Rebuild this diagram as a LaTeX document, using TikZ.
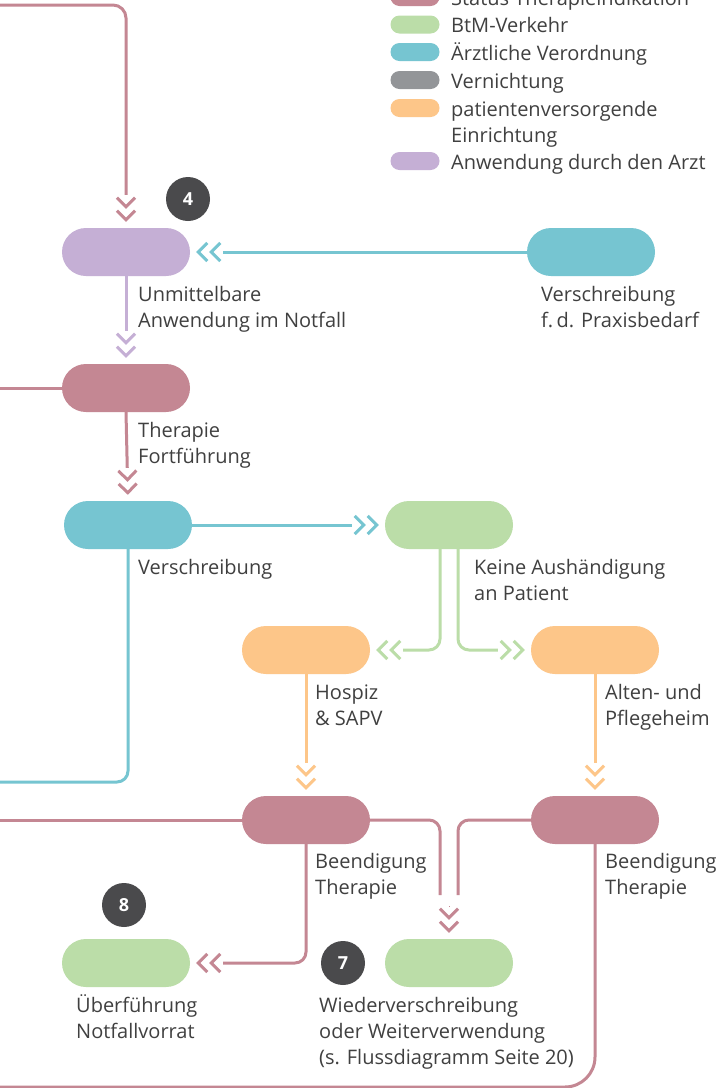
\documentclass[tikz,border=0pt]{standalone}
\usepackage{fontspec}
\setmainfont{Open Sans}
\usetikzlibrary{arrows.meta}
\definecolor{rose}{HTML}{C48793}
\definecolor{grn}{HTML}{BBDDA8}
\definecolor{tl}{HTML}{76C5D1}
\definecolor{gry}{HTML}{939598}
\definecolor{org}{HTML}{FDC689}
\definecolor{purp}{HTML}{C5AFD5}
\definecolor{badge}{HTML}{4A4A4C}
\definecolor{txt}{HTML}{404040}
\pgfdeclarearrow{
  name = Chev,
  setup code = {
    \pgfarrowssettipend{0pt}
    \pgfarrowssetbackend{-25pt}
    \pgfarrowssetvisualbackend{-25pt}
    \pgfarrowssetlineend{-27pt}
    \pgfarrowshullpoint{0pt}{0pt}
    \pgfarrowshullpoint{-25pt}{10pt}
    \pgfarrowshullpoint{-25pt}{-10pt}
  },
  drawing code = {
    \pgfsetlinewidth{3pt}
    \pgfsetbuttcap
    \pgfsetmiterjoin
    \pgfsetdash{}{0pt}
    \pgfpathmoveto{\pgfqpoint{-11.1pt}{9pt}}
    \pgfpathlineto{\pgfqpoint{-2.1pt}{0pt}}
    \pgfpathlineto{\pgfqpoint{-11.1pt}{-9pt}}
    \pgfpathmoveto{\pgfqpoint{-24.1pt}{9pt}}
    \pgfpathlineto{\pgfqpoint{-15.1pt}{0pt}}
    \pgfpathlineto{\pgfqpoint{-24.1pt}{-9pt}}
    \pgfusepathqstroke
  }
}
\begin{document}
\begin{tikzpicture}[x=1pt,y=-1pt,
  pill/.style={rectangle, rounded corners=24pt, minimum width=128pt, minimum height=48pt, inner sep=0pt, draw=none},
  leg/.style={rectangle, rounded corners=9pt, minimum width=49pt, minimum height=18pt, inner sep=0pt, draw=none},
  conn/.style={line width=3pt},
  ar/.style={-{Chev}, shorten >=6pt},
  lab/.style={anchor=base west, align=left, inner sep=0pt, text=txt, font=\fontsize{20}{26}\selectfont},
  num/.style={circle, fill=badge, minimum size=44pt, inner sep=0pt, text=white, font=\fontsize{18}{18}\selectfont\bfseries}]
\fill[white] (0,0) rectangle (721,1088);
\useasboundingbox (0,0) rectangle (721,1088);

% legend
\node[leg, fill=rose] (l1) at (415,-3) {};
\node[leg, fill=grn]  (l2) at (415,24.5) {};
\node[leg, fill=tl]   (l3) at (415,52) {};
\node[leg, fill=gry]  (l4) at (415,80) {};
\node[leg, fill=org]  (l5) at (415,108) {};
\node[leg, fill=purp] (l6) at (415,161) {};
\node[lab] (t1) at (451,5) {Status Therapieindikation};
\node[lab] (t2) at (451,32.5) {BtM-Verkehr};
\node[lab] (t3) at (451,60) {Ärztliche Verordnung};
\node[lab] (t4) at (451,88) {Vernichtung};
\node[lab] (t5) at (451,142) {patientenversorgende\\Einrichtung};
\node[lab] (t6) at (451,169) {Anwendung durch den Arzt};

% nodes
\node[pill, fill=purp] (anw) at (126,252) {};
\node[pill, fill=tl] (prax) at (591,252) {};
\node[pill, fill=rose] (ther) at (126,388) {};
\node[pill, fill=tl] (vers) at (128,525) {};
\node[pill, fill=grn] (keine) at (449,525) {};
\node[pill, fill=org] (hosp) at (306,650) {};
\node[pill, fill=org] (alten) at (595,650) {};
\node[pill, fill=rose] (beendL) at (306,820) {};
\node[pill, fill=rose] (beendR) at (595,820) {};
\node[pill, fill=grn] (ueber) at (126,963) {};
\node[pill, fill=grn] (wieder) at (449,963) {};

% badges
\node[num] (b4) at (188,199) {4};
\node[num] (b8) at (124,905) {8};
\node[num] (b7) at (343,963) {7};

% free ends
\coordinate (topL) at (-10,5);
\coordinate (therL) at (-10,388);
\coordinate (versL) at (-10,782);
\coordinate (beendLL) at (-10,820);
\coordinate (botL) at (-10,1087);
\coordinate (mL) at (440,895);
\coordinate (mR) at (458,895);
\coordinate (mC) at (449,906);

% connectors
\draw[conn, draw=rose, ar, rounded corners=13pt] (topL) -| (anw.north);
\draw[conn, draw=tl, ar] (prax.west) -- (anw.east);
\draw[conn, draw=purp, ar] (anw.south) -- (ther.north);
\draw[conn, draw=rose] (therL) -- (ther.west);
\draw[conn, draw=rose, ar] (ther.south) -- (vers.north);
\draw[conn, draw=tl, ar] (vers.east) -- (keine.west);
\draw[conn, draw=tl, rounded corners=11pt] (vers.south) |- (versL);
\draw[conn, draw=grn, ar, rounded corners=11pt] ([xshift=-9pt]keine.south) |- (hosp.east);
\draw[conn, draw=grn, ar, rounded corners=11pt] ([xshift=9pt]keine.south) |- (alten.west);
\draw[conn, draw=org, ar] (hosp.south) -- (beendL.north);
\draw[conn, draw=org, ar] (alten.south) -- (beendR.north);
\draw[conn, draw=rose] (beendLL) -- (beendL.west);
\draw[conn, draw=rose, rounded corners=11pt] (beendL.east) -| (mL);
\draw[conn, draw=rose, rounded corners=11pt] (beendR.west) -| (mR);
\draw[line width=0.1pt, draw=rose, ar] (mC) -- (wieder.north);
\draw[conn, draw=rose, ar, rounded corners=11pt] (beendL.south) |- (ueber.east);
\draw[conn, draw=rose, rounded corners=30pt] (beendR.south) |- (botL);

% labels
\node[lab] (la) at (138,327) {Unmittelbare\\Anwendung im Notfall};
\node[lab] (lp) at (541,327) {Verschreibung\\f.\,d. Praxisbedarf};
\node[lab] (lt) at (138,463) {Therapie\\Fortführung};
\node[lab] (lv) at (138,574) {Verschreibung};
\node[lab] (lk) at (474,600) {Keine Aushändigung\\an Patient};
\node[lab] (lh) at (315,725) {Hospiz\\\&{} SAPV};
\node[lab] (lal) at (605,725) {Alten- und\\Pflegeheim};
\node[lab] (lbl) at (315,894) {Beendigung\\Therapie};
\node[lab] (lbr) at (605,894) {Beendigung\\Therapie};
\node[lab] (lu) at (76,1038) {Überführung\\Notfallvorrat};
\node[lab] (lw) at (319,1064) {Wiederverschreibung\\oder Weiterverwendung\\(s. Flussdiagramm Seite 20)};
\end{tikzpicture}
\end{document}
